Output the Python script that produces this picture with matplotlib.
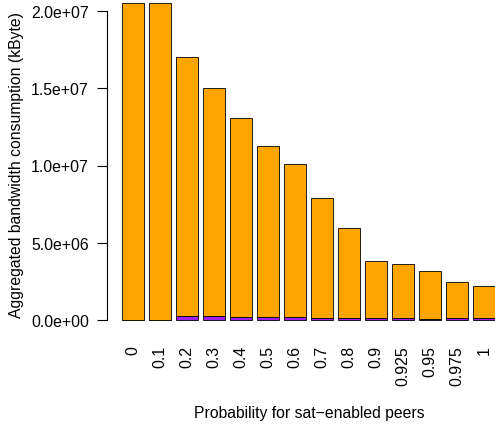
import matplotlib
matplotlib.use("Agg")
import matplotlib.pyplot as plt
import numpy as np

# probability for sat-enabled peers
probs = ["0", "0.1", "0.2", "0.3", "0.4", "0.5", "0.6", "0.7", "0.8",
         "0.9", "0.925", "0.95", "0.975", "1"]
# purple part (bottom) and orange part (top), kByte
sat = [0, 0, 2.6e5, 2.8e5, 2.0e5, 1.8e5, 1.8e5, 1.2e5, 1.1e5,
       1.0e5, 1.0e5, 0.9e5, 1.1e5, 1.5e5]
terr = [2.05e7, 2.05e7, 1.674e7, 1.472e7, 1.285e7, 1.108e7, 0.994e7,
        7.78e6, 5.84e6, 3.74e6, 3.52e6, 3.10e6, 2.37e6, 2.05e6]
yticks = [0, 5e6, 1e7, 1.5e7, 2e7]
yticklabels = ["0.0e+00", "5.0e+06", "1.0e+07", "1.5e+07", "2.0e+07"]

plt.rcParams['font.family'] = ['Liberation Sans', 'DejaVu Sans']
W, H = 495, 431
fig = plt.figure(figsize=(W / 100, H / 100), dpi=100)

# plot region in pixels (goes past the right and top edge, like the crop)
x0, x1 = 107, 510
ylo, yhi = -0.82e6, 2.13e7
py0 = 321 + 0.82 * 15.45
py1 = 321 - 21.3 * 15.45
ax = fig.add_axes([x0 / W, 1 - py0 / H, (x1 - x0) / W, (py0 - py1) / H])

x = 0.7 + 1.2 * np.arange(len(probs))
ax.bar(x, sat, width=1.0, color="#A020F0", edgecolor="black", linewidth=0.6)
ax.bar(x, terr, width=1.0, bottom=sat, color="#FFA500", edgecolor="black",
       linewidth=0.6)

ax.set_xlim(-0.464, 17.464)
ax.set_ylim(ylo, yhi)

for s in ["top", "right", "bottom"]:
    ax.spines[s].set_visible(False)
ax.spines["left"].set_bounds(0, 2e7)
ax.spines["left"].set_linewidth(0.8)

ax.set_yticks(yticks)
ax.set_yticklabels(yticklabels, fontsize=11.4)
ax.tick_params(axis="y", length=7, width=0.8, pad=6)
ax.set_xticks([])

# rotated category labels under each bar
lab_tr = matplotlib.transforms.offset_copy(ax.transData, fig=fig, x=0,
                                           y=-25 * 72 / 100, units="points")
for xi, lab in zip(x, probs):
    ax.text(xi, 0, lab, rotation=90, ha="center", va="top", fontsize=11.4,
            transform=lab_tr)

fig.text(17 / W, 1 - 165 / H, "Aggregated bandwidth consumption (kByte)",
         rotation=90, ha="center", va="center", fontsize=11.3)
fig.text(309 / W, 1 - 414 / H, "Probability for sat\u2212enabled peers",
         ha="center", va="center", fontsize=11.3)

fig.savefig("out.png", dpi=100)
